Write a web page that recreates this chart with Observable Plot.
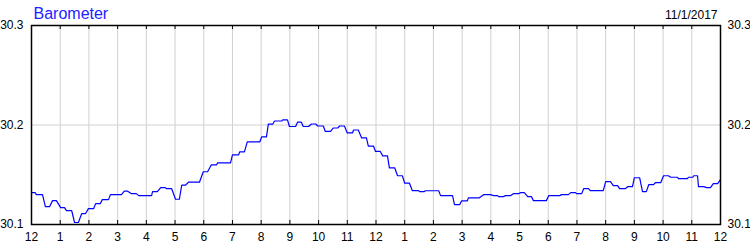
<!DOCTYPE html>
<html><head><meta charset="utf-8">
<script src="https://cdn.jsdelivr.net/npm/d3@7"></script>
<script src="https://cdn.jsdelivr.net/npm/@observablehq/plot@0.6"></script>
<style>html,body{margin:0;padding:0;background:#fff;} svg{display:block}</style>
</head><body><div id="chart"></div>
<script>
const title = "Barometer";
const dateLabel = "11/1/2017";
// minutes since midnight
const minutes = [0,8,10,23,29,38,44,52,61,69,73,84,90,98,105,113,119,130,134,144,148,161,165,188,194,201,209,219,224,251,253,263,270,280,282,293,301,309,314,322,328,351,359,368,376,387,389,416,420,433,435,445,451,477,481,491,495,504,508,523,525,535,539,552,556,564,568,579,585,594,598,610,614,625,631,640,644,654,660,671,673,683,690,700,704,715,719,729,734,744,748,759,765,775,780,790,796,809,811,821,823,851,855,880,884,895,899,911,913,936,945,959,966,974,976,986,991,1001,1007,1018,1022,1030,1037,1045,1049,1076,1081,1104,1108,1122,1127,1137,1139,1150,1154,1164,1168,1195,1200,1210,1216,1225,1229,1241,1246,1256,1260,1271,1277,1285,1290,1300,1304,1315,1321,1331,1336,1350,1352,1371,1373,1382,1384,1392,1394,1405,1411,1419,1425,1434,1440];
// barometric pressure, inHg
const pressure = [30.132,30.132,30.130,30.130,30.118,30.118,30.124,30.124,30.117,30.117,30.114,30.114,30.102,30.102,30.111,30.111,30.116,30.116,30.121,30.121,30.125,30.125,30.130,30.130,30.1335,30.1335,30.131,30.131,30.129,30.129,30.133,30.133,30.137,30.137,30.136,30.136,30.1254,30.1254,30.1395,30.1395,30.1425,30.1425,30.153,30.153,30.160,30.160,30.162,30.162,30.170,30.170,30.173,30.173,30.183,30.183,30.188,30.188,30.2008,30.2008,30.204,30.204,30.2052,30.2052,30.1985,30.1985,30.2028,30.2028,30.1985,30.1985,30.201,30.201,30.199,30.199,30.1935,30.1935,30.197,30.197,30.199,30.199,30.192,30.192,30.195,30.195,30.187,30.187,30.1787,30.1787,30.1734,30.1734,30.169,30.169,30.157,30.157,30.149,30.149,30.1415,30.1415,30.134,30.134,30.133,30.133,30.1339,30.1339,30.129,30.129,30.120,30.120,30.1238,30.1238,30.1268,30.1268,30.130,30.130,30.129,30.129,30.128,30.128,30.129,30.129,30.131,30.131,30.132,30.132,30.128,30.128,30.124,30.124,30.129,30.129,30.130,30.130,30.132,30.132,30.131,30.131,30.136,30.136,30.134,30.134,30.143,30.143,30.139,30.139,30.136,30.136,30.138,30.138,30.147,30.147,30.133,30.133,30.140,30.140,30.142,30.142,30.149,30.149,30.1475,30.1475,30.1462,30.1462,30.1475,30.1475,30.149,30.149,30.138,30.138,30.137,30.137,30.141,30.141,30.145];
const hourTicks = [0,60,120,180,240,300,360,420,480,540,600,660,720,780,840,900,960,1020,1080,1140,1200,1260,1320,1380,1440];
const hourLabels = ["12","1","2","3","4","5","6","7","8","9","10","11","12","1","2","3","4","5","6","7","8","9","10","11","12"];
const yTicks = [30.1, 30.2, 30.3];
const yGrid = [30.2];

const data = minutes.map((m, i) => ({m, p: pressure[i]}));
const innerH = 250 - 25 - 26;

const chart = Plot.plot({
  width: 750, height: 250,
  marginLeft: 31, marginRight: 30, marginTop: 25, marginBottom: 26,
  style: {fontFamily: "'Liberation Sans', Arial, sans-serif", fontSize: "12px", background: "#fff", color: "#000"},
  x: {domain: [0, 1440]},
  y: {domain: [30.1, 30.3]},
  marks: [
    Plot.gridX(hourTicks, {stroke: "#d0d0d0", strokeOpacity: 1}),
    Plot.gridY(yGrid, {stroke: "#d0d0d0", strokeOpacity: 1}),
    Plot.ruleX(hourTicks, {insetTop: innerH - 4, stroke: "#000"}),
    Plot.ruleX(hourTicks, {insetBottom: innerH - 4, stroke: "#000"}),
    Plot.line(data, {x: "m", y: "p", stroke: "#0000ff", strokeWidth: 1.2}),
    Plot.frame({stroke: "#000", strokeWidth: 1.5}),
    Plot.axisX(hourTicks, {tickSize: 0, tickPadding: 8, tickFormat: d => hourLabels[d / 60], label: null, fontSize: 12}),
    Plot.axisY(yTicks, {anchor: "left", tickSize: 0, tickPadding: 8, tickFormat: ".1f", label: null, fontSize: 12}),
    Plot.axisY(yTicks, {anchor: "right", tickSize: 0, tickPadding: 7, tickFormat: ".1f", label: null, fontSize: 12}),
    Plot.text([title], {frameAnchor: "top-left", dx: 2, dy: -7, lineAnchor: "bottom", fill: "#2222ff", fontSize: 16}),
    Plot.text([dateLabel], {frameAnchor: "top-right", textAnchor: "end", dx: -3, dy: -7, lineAnchor: "bottom", fill: "#000", fontSize: 12})
  ]
});
document.getElementById("chart").append(chart);
</script>
</body></html>
